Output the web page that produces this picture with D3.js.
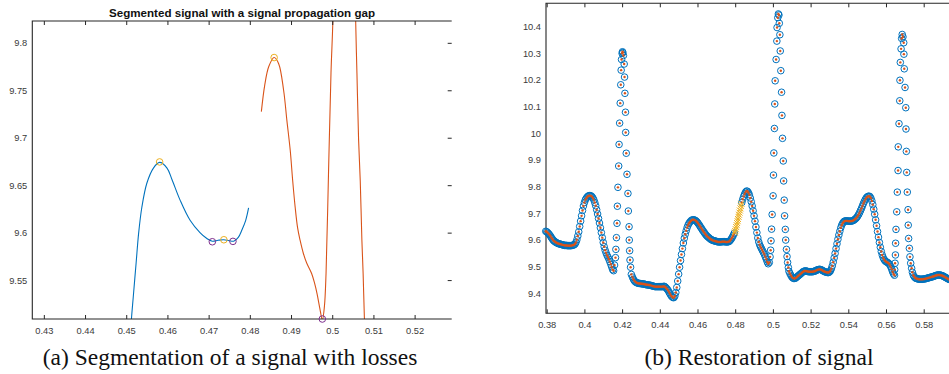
<!DOCTYPE html>
<html>
<head>
<meta charset="utf-8">
<script src="https://cdn.jsdelivr.net/npm/d3@7"></script>
<style>
  body { margin: 0; background: #fff; }
  svg { display: block; }
</style>
</head>
<body>
<svg id="chart" width="949" height="374"></svg>
<script>
// ---------------- panel (a): segmented signal ----------------
const titleA = "Segmented signal with a signal propagation gap";
const captionA = "(a) Segmentation of a signal with losses";
const xTicksA = [0.43, 0.44, 0.45, 0.46, 0.47, 0.48, 0.49, 0.5, 0.51, 0.52];
const yTicksA = [9.55, 9.6, 9.65, 9.7, 9.75, 9.8];

// first segment (blue)
const seg1X = [0.4508, 0.4512, 0.4517, 0.4524, 0.4530, 0.4538, 0.4550, 0.4566, 0.4581, 0.4599, 0.4611, 0.4631,
  0.4655, 0.4679, 0.4695, 0.4709, 0.4723, 0.4737, 0.4750, 0.4761, 0.4772, 0.4781, 0.4790, 0.4797];
const seg1Y = [9.470, 9.505, 9.532, 9.568, 9.599, 9.627, 9.652, 9.668, 9.674, 9.668, 9.656, 9.634,
  9.613, 9.600, 9.594, 9.591, 9.592, 9.5925, 9.5915, 9.591, 9.595, 9.603, 9.613, 9.626];

// second segment (orange), leaves the view above 9.82
const seg2X = [0.4828, 0.4836, 0.4846, 0.4859, 0.4870, 0.4882, 0.4890, 0.4898, 0.4904, 0.4910, 0.4916, 0.4922,
  0.4930, 0.4938, 0.4950, 0.4957, 0.4963, 0.4970, 0.4976, 0.4981, 0.4985, 0.4991, 0.4997, 0.5002,
  0.5008, 0.5017, 0.5029, 0.5041, 0.5050, 0.5056, 0.5060, 0.5064, 0.5068, 0.5072, 0.5075, 0.5078, 0.5081];
const seg2Y = [9.7275, 9.755, 9.775, 9.7845, 9.778, 9.750, 9.718, 9.687, 9.655, 9.627, 9.605, 9.592,
  9.578, 9.568, 9.557, 9.547, 9.536, 9.520, 9.508, 9.522, 9.557, 9.663, 9.768, 9.830,
  10.02, 10.28, 10.45, 10.30, 10.05, 9.840, 9.768, 9.698, 9.655, 9.592, 9.557, 9.511, 9.480];

// found extrema
const maxPtsX = [0.4581, 0.4737, 0.4859];
const maxPtsY = [9.6745, 9.5925, 9.7845];
const minPtsX = [0.4709, 0.4759, 0.4976];
const minPtsY = [9.5904, 9.5908, 9.509];

// ---------------- panel (b): restored signal ----------------
const captionB = "(b) Restoration of signal";
const xTicksB = [0.38, 0.4, 0.42, 0.44, 0.46, 0.48, 0.5, 0.52, 0.54, 0.56, 0.58];
const yTicksB = [9.4, 9.5, 9.6, 9.7, 9.8, 9.9, 10, 10.1, 10.2, 10.3, 10.4];

// regularly sampled stretches (sample step 0.0005)
const sampleStep = 0.0005;
const partAStart = 0.3795;
const partA = [
  9.632, 9.630, 9.627, 9.623, 9.619, 9.614, 9.608, 9.603, 9.598, 9.595,
  9.592, 9.590, 9.588, 9.586, 9.585, 9.584, 9.583, 9.582, 9.581, 9.580,
  9.579, 9.579, 9.579, 9.578, 9.578, 9.578, 9.578, 9.578, 9.579, 9.580,
  9.581, 9.584, 9.590, 9.600, 9.614, 9.630, 9.650, 9.670, 9.690, 9.710,
  9.727, 9.740, 9.750, 9.756, 9.761, 9.764, 9.766, 9.766, 9.765, 9.762,
  9.757, 9.750, 9.740, 9.728, 9.713, 9.697, 9.680, 9.663, 9.645, 9.627,
  9.608, 9.590, 9.574, 9.561, 9.551, 9.542, 9.535, 9.527, 9.518, 9.508,
  9.498, 9.488, 9.484];
const partBStart = 0.4255;
const partB = [
  9.460, 9.452, 9.446, 9.442, 9.440, 9.438, 9.437, 9.436, 9.436, 9.435,
  9.435, 9.434, 9.434, 9.433, 9.432, 9.431, 9.431, 9.430, 9.430, 9.429,
  9.428, 9.427, 9.426, 9.425, 9.424, 9.424, 9.424, 9.424, 9.424, 9.424,
  9.424, 9.424, 9.424, 9.425, 9.425, 9.422, 9.418, 9.414, 9.409, 9.402,
  9.396, 9.390, 9.386, 9.383, 9.383, 9.389, 9.402, 9.421, 9.445, 9.471,
  9.497, 9.522, 9.545, 9.567, 9.588, 9.606, 9.621, 9.634, 9.646, 9.655,
  9.662, 9.667, 9.671, 9.674, 9.675, 9.675, 9.674, 9.672, 9.669, 9.665,
  9.660, 9.655, 9.649, 9.644, 9.638, 9.633, 9.628, 9.623, 9.618, 9.614,
  9.611, 9.608, 9.605, 9.602, 9.600, 9.598, 9.597, 9.596, 9.595, 9.594,
  9.593, 9.592, 9.592, 9.592, 9.592, 9.593, 9.593, 9.593, 9.593, 9.592,
  9.592, 9.592, 9.593, 9.595, 9.599, 9.604, 9.610, 9.617, 9.625];
const partCStart = 0.4835;
const partC = [
  9.740, 9.752, 9.763, 9.772, 9.779, 9.783, 9.782, 9.777, 9.769, 9.757,
  9.743, 9.727, 9.709, 9.690, 9.670, 9.648, 9.627, 9.607, 9.592, 9.581,
  9.573, 9.566, 9.559, 9.552, 9.545, 9.536, 9.527, 9.517, 9.510];
const partDStart = 0.5085;
const partD = [
  9.482, 9.474, 9.467, 9.461, 9.457, 9.455, 9.455, 9.456, 9.459, 9.462,
  9.465, 9.468, 9.471, 9.474, 9.477, 9.480, 9.482, 9.483, 9.483, 9.482,
  9.481, 9.480, 9.480, 9.480, 9.480, 9.480, 9.481, 9.482, 9.483, 9.485,
  9.487, 9.488, 9.489, 9.489, 9.488, 9.486, 9.484, 9.482, 9.480, 9.479,
  9.478, 9.477, 9.477, 9.479, 9.483, 9.491, 9.502, 9.516, 9.532, 9.549,
  9.567, 9.585, 9.602, 9.618, 9.632, 9.645, 9.655, 9.662, 9.667, 9.670,
  9.671, 9.671, 9.671, 9.670, 9.670, 9.670, 9.670, 9.671, 9.672, 9.674,
  9.677, 9.680, 9.684, 9.689, 9.695, 9.702, 9.710, 9.718, 9.727, 9.736,
  9.744, 9.751, 9.757, 9.761, 9.763, 9.764, 9.762, 9.756, 9.746, 9.732,
  9.715, 9.696, 9.675, 9.653, 9.631, 9.610, 9.590, 9.572, 9.556, 9.543,
  9.533, 9.526, 9.521, 9.518, 9.516, 9.514, 9.511, 9.506, 9.499, 9.490,
  9.480, 9.472, 9.467];
const partEStart = 0.5740;
const partE = [
  9.478, 9.467, 9.461, 9.457, 9.455, 9.454, 9.453, 9.452, 9.452, 9.452,
  9.452, 9.452, 9.453, 9.453, 9.454, 9.455, 9.456, 9.457, 9.458, 9.459,
  9.460, 9.461, 9.462, 9.463, 9.465, 9.466, 9.467, 9.468, 9.468, 9.468,
  9.467, 9.466, 9.465, 9.463, 9.461, 9.459, 9.457, 9.455, 9.453, 9.451,
  9.450, 9.449, 9.448];

// the three spikes (sparse samples)
const spike1X = [0.4160, 0.4165, 0.4167, 0.4170, 0.4173, 0.4175, 0.4178, 0.4182, 0.4184, 0.4187, 0.4190,
  0.4193, 0.4195, 0.4197, 0.4200, 0.4202, 0.4204, 0.4207, 0.4211, 0.4213, 0.4215, 0.4218, 0.4219,
  0.4222, 0.4226, 0.4231, 0.4233, 0.4237, 0.4238, 0.4240, 0.4242, 0.4245, 0.4249];
const spike1Y = [9.505, 9.533, 9.564, 9.608, 9.662, 9.726, 9.797, 9.877, 9.958, 10.038, 10.113,
  10.182, 10.237, 10.277, 10.300, 10.306, 10.303, 10.292, 10.260, 10.211, 10.150, 10.079, 10.003,
  9.925, 9.846, 9.774, 9.708, 9.649, 9.599, 9.559, 9.524, 9.497, 9.470];
const spike2X = [0.4981, 0.4985, 0.4988, 0.4990, 0.4993, 0.4996, 0.5001, 0.5003, 0.5005, 0.5008, 0.5010,
  0.5012, 0.5017, 0.5021, 0.5022, 0.5026, 0.5029, 0.5032, 0.5034, 0.5037, 0.5039, 0.5042, 0.5046,
  0.5048, 0.5051, 0.5055, 0.5057, 0.5060, 0.5062, 0.5066, 0.5068, 0.5072, 0.5075, 0.5078, 0.5082];
const spike2Y = [9.515, 9.536, 9.561, 9.596, 9.640, 9.695, 9.765, 9.843, 9.926, 10.018, 10.110,
  10.197, 10.277, 10.346, 10.397, 10.434, 10.448, 10.444, 10.413, 10.370, 10.309, 10.235, 10.154,
  10.067, 9.981, 9.896, 9.821, 9.749, 9.690, 9.639, 9.599, 9.564, 9.537, 9.515, 9.496];
const spike3X = [0.5646, 0.5648, 0.5650, 0.5651, 0.5653, 0.5657, 0.5660, 0.5664, 0.5665, 0.5669, 0.5673,
  0.5674, 0.5676, 0.5680, 0.5683, 0.5686, 0.5690, 0.5694, 0.5695, 0.5697, 0.5701, 0.5705, 0.5706,
  0.5708, 0.5710, 0.5713, 0.5717, 0.5718, 0.5720, 0.5724, 0.5727, 0.5731, 0.5736];
const spike3Y = [9.488, 9.512, 9.543, 9.587, 9.639, 9.705, 9.779, 9.860, 9.949, 10.036, 10.122,
  10.199, 10.266, 10.317, 10.356, 10.371, 10.362, 10.340, 10.297, 10.242, 10.172, 10.096, 10.016,
  9.932, 9.853, 9.779, 9.713, 9.655, 9.605, 9.568, 9.536, 9.512, 9.493];

// restored samples in the gap
const gapX = [0.4798, 0.4800, 0.4803, 0.4805, 0.4808, 0.4810, 0.4813, 0.4815, 0.4818, 0.4820, 0.4823,
  0.4825, 0.4828, 0.4830, 0.4833];
const gapY = [9.627, 9.633, 9.640, 9.648, 9.655, 9.663, 9.670, 9.678, 9.686, 9.694, 9.702,
  9.710, 9.718, 9.727, 9.735];

// ---------------- drawing ----------------
const BLUE = "#0072BD", ORANGE = "#D95319", YELLOW = "#EDB120", PURPLE = "#7E2F8E";
const AXIS = "#262626";
const fmt = d => String(+d.toFixed(3));
const svg = d3.select("#chart");

function zip(xs, ys) { return xs.map((x, i) => [x, ys[i]]); }
function sampled(start, vals) { return vals.map((v, i) => [start + i * sampleStep, v]); }

// MATLAB-like box: ticks inward at bottom/top(/right), labels at bottom/left
function drawAxes(x, y, box, xTicks, yTicks, withRight) {
  let g = svg.append("g").attr("color", AXIS);
  let bottom = g.append("g").attr("transform", "translate(0," + box.bottom + ")")
    .call(d3.axisBottom(x).tickValues(xTicks).tickSize(-4).tickPadding(8.5).tickFormat(fmt));
  let top = g.append("g").attr("transform", "translate(0," + box.top + ")")
    .call(d3.axisTop(x).tickValues(xTicks).tickSize(-4).tickFormat(""));
  let left = g.append("g").attr("transform", "translate(" + box.left + ",0)")
    .call(d3.axisLeft(y).tickValues(yTicks).tickSize(0).tickPadding(5).tickFormat(fmt));
  [bottom, top, left].forEach(s => s.select(".domain").remove());
  if (withRight) {
    let right = g.append("g").attr("transform", "translate(" + box.right + ",0)")
      .call(d3.axisRight(y).tickValues(yTicks).tickSize(-4).tickFormat(""));
    right.select(".domain").remove();
  }
  g.selectAll(".tick line").attr("stroke-width", 1);
  g.selectAll("text")
    .attr("font-family", "'Liberation Sans', Arial, Helvetica, sans-serif")
    .attr("font-size", 9.3)
    .attr("fill", "#3a3a3a");
  g.append("path")
    .attr("d", "M" + box.right + "," + box.top + "H" + box.left + "V" + box.bottom + "H" + box.right)
    .attr("fill", "none").attr("stroke", AXIS).attr("stroke-width", 1.1);
}

// ----- panel (a)
var boxA = { left: 32.3, right: 451.7, top: 21, bottom: 319 };
let xA = d3.scaleLinear().domain([0.4272, 0.5290]).range([boxA.left, boxA.right]);
let yA = d3.scaleLinear().domain([9.509, 9.823]).range([boxA.bottom, boxA.top]);

svg.append("clipPath").attr("id", "clipA").append("rect")
  .attr("x", boxA.left).attr("y", boxA.top)
  .attr("width", boxA.right - boxA.left).attr("height", boxA.bottom - boxA.top);

let lineA = d3.line().x(d => xA(d[0])).y(d => yA(d[1])).curve(d3.curveCatmullRom.alpha(0.5));
let plotA = svg.append("g").attr("clip-path", "url(#clipA)");
plotA.append("path").datum(zip(seg1X, seg1Y)).attr("d", lineA)
  .attr("fill", "none").attr("stroke", BLUE).attr("stroke-width", 1.1);
plotA.append("path").datum(zip(seg2X, seg2Y)).attr("d", lineA)
  .attr("fill", "none").attr("stroke", ORANGE).attr("stroke-width", 1.1);

drawAxes(xA, yA, boxA, xTicksA, yTicksA, true);

svg.append("g").selectAll("circle").data(zip(maxPtsX, maxPtsY)).enter().append("circle")
  .attr("cx", d => xA(d[0])).attr("cy", d => yA(d[1])).attr("r", 3.3)
  .attr("fill", "none").attr("stroke", YELLOW).attr("stroke-width", 1);
svg.append("g").selectAll("circle").data(zip(minPtsX, minPtsY)).enter().append("circle")
  .attr("cx", d => xA(d[0])).attr("cy", d => yA(d[1])).attr("r", 3.3)
  .attr("fill", "none").attr("stroke", PURPLE).attr("stroke-width", 1);

svg.append("text").attr("x", (boxA.left + boxA.right) / 2).attr("y", 16.5)
  .attr("text-anchor", "middle")
  .attr("font-family", "'Liberation Sans', Arial, Helvetica, sans-serif")
  .attr("font-weight", "bold").attr("font-size", 11.6).attr("fill", "#111")
  .text(titleA);

// ----- panel (b)
var boxB = { left: 546, right: 961.4, top: 3.3, bottom: 313.3 };
let xB = d3.scaleLinear().domain([0.37963, 0.6]).range([boxB.left, boxB.right]);
let yB = d3.scaleLinear().domain([9.324, 10.488]).range([boxB.bottom, boxB.top]);

let signal = [].concat(
  sampled(partAStart, partA), zip(spike1X, spike1Y),
  sampled(partBStart, partB), sampled(partCStart, partC), zip(spike2X, spike2Y),
  sampled(partDStart, partD), zip(spike3X, spike3Y), sampled(partEStart, partE));

drawAxes(xB, yB, boxB, xTicksB, yTicksB, false);

svg.append("g").selectAll("circle").data(signal).enter().append("circle")
  .attr("cx", d => xB(d[0])).attr("cy", d => yB(d[1])).attr("r", 3.3)
  .attr("fill", "none").attr("stroke", BLUE).attr("stroke-width", 1);
svg.append("g").selectAll("circle").data(signal).enter().append("circle")
  .attr("cx", d => xB(d[0])).attr("cy", d => yB(d[1])).attr("r", 1.2)
  .attr("fill", ORANGE);
svg.append("g").selectAll("path").data(zip(gapX, gapY)).enter().append("path")
  .attr("transform", d => "translate(" + xB(d[0]) + "," + yB(d[1]) + ")")
  .attr("d", "M-3,-3L3,3M-3,3L3,-3")
  .attr("stroke", YELLOW).attr("stroke-width", 1).attr("fill", "none");

// ----- captions
svg.append("text").attr("x", 230).attr("y", 365).attr("text-anchor", "middle")
  .attr("font-family", "'Liberation Serif', 'Times New Roman', serif")
  .attr("font-size", 23.5).attr("fill", "#111").text(captionA);
svg.append("text").attr("x", 759).attr("y", 365).attr("text-anchor", "middle")
  .attr("font-family", "'Liberation Serif', 'Times New Roman', serif")
  .attr("font-size", 23.5).attr("fill", "#111").text(captionB);
</script>
</body>
</html>
